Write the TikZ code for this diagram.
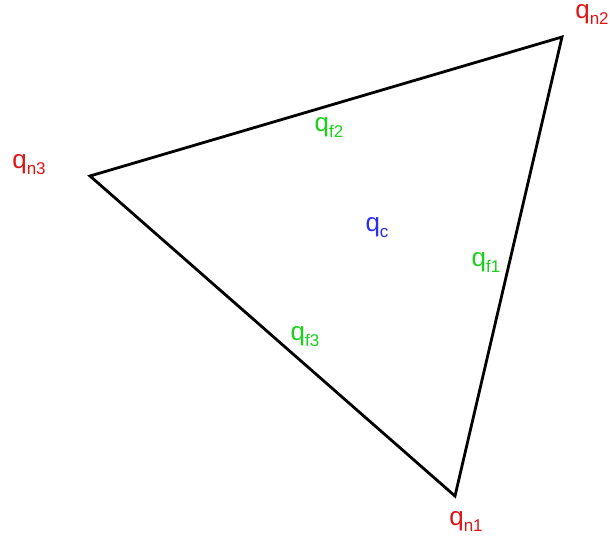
\documentclass[tikz,border=0pt]{standalone}
\usepackage{fontspec}
\setmainfont{Liberation Sans}
\definecolor{nred}{RGB}{225,20,20}
\definecolor{fgreen}{RGB}{25,210,25}
\definecolor{cblue}{RGB}{45,45,240}
\newcommand{\qlab}[1]{{\fontsize{26}{27}\selectfont q}\raisebox{-6pt}{\fontsize{17}{18}\selectfont #1}}
\tikzset{
  edge/.style={line width=2.8pt, line join=miter, black},
  lab/.style={inner sep=0pt, anchor=center},
  nlab/.style={lab, text=nred},
  flab/.style={lab, text=fgreen},
  clab/.style={lab, text=cblue}
}
\begin{document}
\begin{tikzpicture}[x=1pt,y=-1pt]
\useasboundingbox (0,0) rectangle (610,546);
\coordinate (n1) at (455,496);
\coordinate (n2) at (562,37);
\coordinate (n3) at (90,176);
\draw[edge] (n1) -- (n2) -- (n3) -- cycle;
\node[nlab] (ln2) at (592,15) {\qlab{n2}};
\node[nlab] (ln3) at (29,165) {\qlab{n3}};
\node[nlab] (ln1) at (466,521) {\qlab{n1}};
\node[flab] (lf2) at (329,128) {\qlab{f2}};
\node[flab] (lf1) at (486,263) {\qlab{f1}};
\node[flab] (lf3) at (305,337) {\qlab{f3}};
\node[clab] (lc) at (377,228) {\qlab{c}};
\end{tikzpicture}
\end{document}
